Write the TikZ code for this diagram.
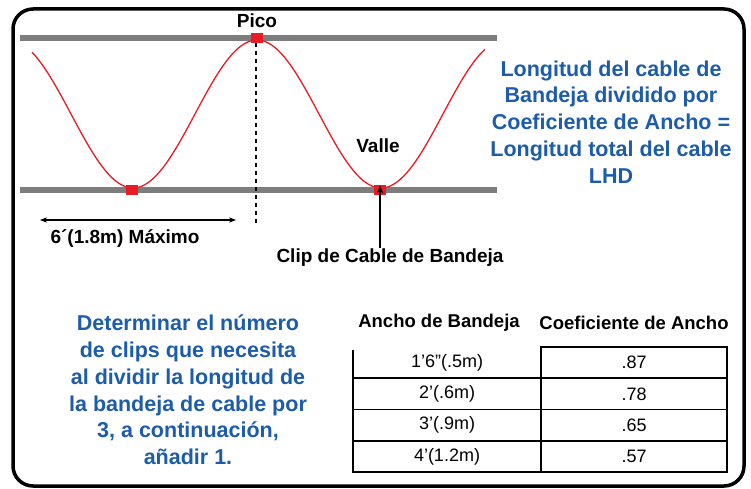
\documentclass[tikz,border=0pt]{standalone}
\usepackage{fontspec}
\setmainfont{Liberation Sans}
\usetikzlibrary{positioning,arrows.meta}

\definecolor{trayblue}{RGB}{28,92,170}
\definecolor{railgray}{RGB}{125,125,125}
\definecolor{clipred}{RGB}{232,28,36}

\tikzset{
  rail/.style={draw=railgray, line width=6.5pt},
  cable/.style={draw=clipred, line width=1.3pt},
  clipbox/.style={fill=clipred, minimum width=12pt, minimum height=10pt, inner sep=0pt},
  bluetext/.style={text=trayblue, font=\bfseries\fontsize{21.5}{26.8}\selectfont, align=center},
  lbl/.style={font=\bfseries\fontsize{19}{20}\selectfont, inner sep=0pt},
  hdr/.style={font=\bfseries\fontsize{18.5}{20}\selectfont, inner sep=0pt},
  cell/.style={minimum width=188pt, minimum height=31.25pt, inner sep=0pt, outer sep=0pt,
               font=\fontsize{18}{19}\selectfont},
  grid/.style={line width=1.8pt},
}

\begin{document}
\begin{tikzpicture}[x=1pt, y=-1pt]
  \useasboundingbox (0,0) rectangle (751,489);

  % frame
  \draw[line width=3.5pt, rounded corners=20pt] (13,9) rectangle (744,486);

  % tray rails
  \coordinate (top_l) at (20,38);
  \coordinate (top_r) at (497,38);
  \coordinate (bot_l) at (20,190);
  \coordinate (bot_r) at (497,190);
  \draw[rail] (top_l) -- (top_r);
  \draw[rail] (bot_l) -- (bot_r);

  % cable
  \draw[cable] plot[domain=32:485, samples=150] (\x, {114 - 74*cos(1.4516*(\x-257))});

  % clips
  \node[clipbox] (clip_pico) at (257,38) {};
  \node[clipbox] (clip_v1) at (132,190) {};
  \node[clipbox] (clip_v2) at (380,190) {};

  \node[lbl, above=5pt of clip_pico] (pico) {Pico};
  \node[lbl] (valle) at (378,146) {Valle};

  % peak marker
  \coordinate (dash_end) at (256,226);
  \draw[line width=1.6pt, dash pattern=on 4pt off 4pt] (clip_pico.south) ++(-1,0) -- (dash_end);

  % max spacing
  \coordinate (span_l) at (40,220);
  \coordinate (span_r) at (236,220);
  \draw[line width=1.6pt, {Stealth[length=7pt]}-{Stealth[length=7pt]}] (span_l) -- (span_r);
  \node[lbl] (span_lbl) at (125,239) {6´(1.8m) Máximo};

  % clip label
  \node[lbl] (clip_lbl) at (390,258) {Clip de Cable de Bandeja};
  \draw[line width=1.6pt, -{Stealth[length=8pt]}] (380,248) -- ([yshift=10pt]clip_v2.south);

  % notes
  \node[bluetext] (note_r) at (611,122) {Longitud del cable de\\Bandeja dividido por\\Coeficiente de Ancho =\\Longitud total del cable\\LHD};
  \node[bluetext] (note_l) at (188,390) {Determinar el número\\de clips que necesita\\al dividir la longitud de\\la bandeja de cable por\\3, a continuación,\\añadir 1.};

  % width table
  \node[hdr] (h_ancho) at (439,323) {Ancho de Bandeja};
  \node[hdr] (h_coef) at (634,323) {Coeficiente de Ancho};

  \node[cell] (w1) at (447,362.6) {1’6”(.5m)};
  \node[cell, below=0pt of w1] (w2) {2’(.6m)};
  \node[cell, below=0pt of w2] (w3) {3’(.9m)};
  \node[cell, below=0pt of w3] (w4) {4’(1.2m)};
  \node[cell, minimum width=186pt, right=0pt of w1] (c1) {.87};
  \node[cell, minimum width=186pt, right=0pt of w2] (c2) {.78};
  \node[cell, minimum width=186pt, right=0pt of w3] (c3) {.65};
  \node[cell, minimum width=186pt, right=0pt of w4] (c4) {.57};

  \draw[grid] ([yshift=-3pt]w1.north west) -- (w4.south west) -- (c4.south east) -- (c1.north east) -- (c1.north west) -- (c4.south west);
  \draw[grid] (w1.south west) -- (c1.south east);
  \draw[grid] (w2.south west) -- (c2.south east);
  \draw[grid] (w3.south west) -- (c3.south east);
\end{tikzpicture}
\end{document}
